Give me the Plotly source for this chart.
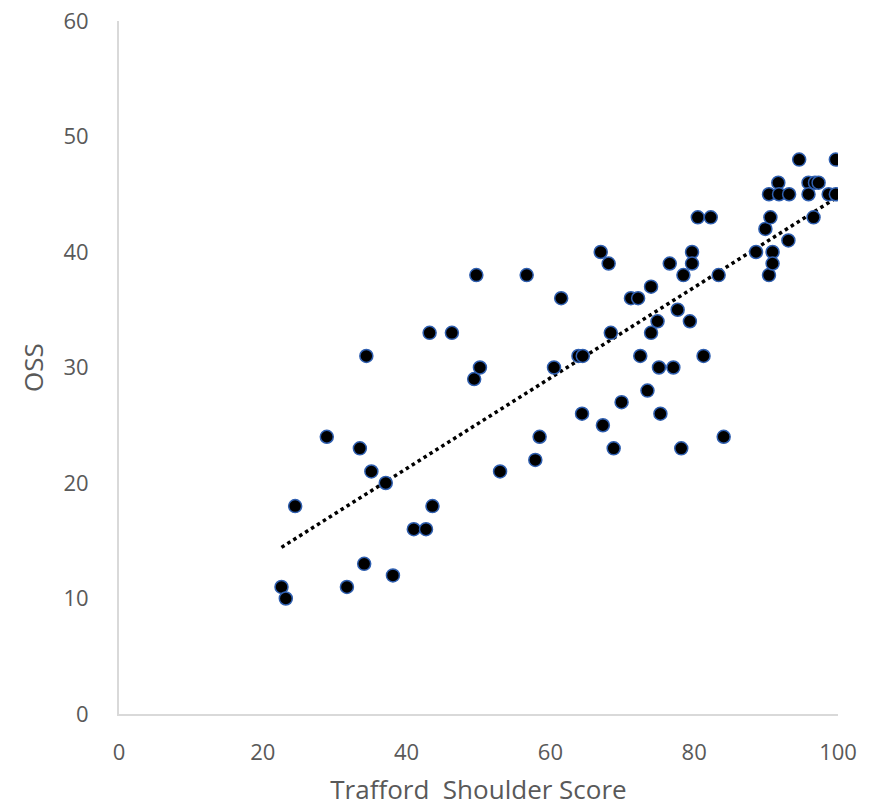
import numpy as np
import plotly.graph_objects as go

# Trafford Shoulder Score (x) and OSS (y)
tss = [22.6, 23.2, 24.5, 28.9, 31.7, 33.5, 34.1, 34.4, 35.1, 37.1, 38.1, 41.0, 42.7, 43.2,
       43.6, 46.3, 49.4, 49.7, 50.2, 53.0, 56.7, 57.9, 58.5, 60.5, 61.5, 63.9, 64.4, 64.5,
       67.0, 67.3, 68.1, 68.4, 68.8, 69.9, 71.2, 72.2, 72.5, 73.5, 74.0, 74.0, 74.9, 75.1,
       75.3, 76.6, 77.1, 77.7, 78.2, 78.5, 79.4, 79.7, 79.7, 80.5, 81.3, 82.3, 83.4, 84.1,
       88.6, 89.9, 90.4, 90.4, 90.6, 90.9, 90.9, 91.7, 91.8, 93.1, 93.2, 94.6, 95.9, 95.9,
       96.6, 96.8, 97.3, 98.7, 99.7, 99.7]
oss = [11, 10, 18, 24, 11, 23, 13, 31, 21, 20, 12, 16, 16, 33,
       18, 33, 29, 38, 30, 21, 38, 22, 24, 30, 36, 31, 26, 31,
       40, 25, 39, 33, 23, 27, 36, 36, 31, 28, 37, 33, 34, 30,
       26, 39, 30, 35, 23, 38, 34, 40, 39, 43, 31, 43, 38, 24,
       40, 42, 38, 45, 43, 40, 39, 46, 45, 41, 45, 48, 46, 45,
       43, 46, 46, 45, 45, 48]

x_ticks = [0, 20, 40, 60, 80, 100]
y_ticks = [0, 10, 20, 30, 40, 50, 60]

# linear trendline fitted from the data
slope, intercept = np.polyfit(tss, oss, 1)
tx = np.array([min(tss), max(tss)])
ty = slope * tx + intercept

fig = go.Figure()
fig.add_trace(go.Scatter(
    x=tx, y=ty, mode="lines",
    line=dict(color="black", width=3.5, dash="dot"),
    hoverinfo="skip", showlegend=False,
))
fig.add_trace(go.Scatter(
    x=tss, y=oss, mode="markers",
    marker=dict(size=13, color="black", line=dict(color="#2f5fb0", width=1.5)),
    showlegend=False,
))

font_family = "Open Sans, DejaVu Sans, sans-serif"
fig.update_layout(
    width=879, height=807,
    margin=dict(l=119, r=41, t=21, b=93),
    paper_bgcolor="white", plot_bgcolor="white",
    font=dict(family=font_family, color="#595959", size=22),
    xaxis=dict(
        range=[0, 100], tickvals=x_ticks, showgrid=False, zeroline=False,
        showline=True, linecolor="#d9d9d9", linewidth=2, ticks="", automargin=False,
        ticklabelstandoff=18, tickfont=dict(size=22, color="#595959"),
        ticklabeloverflow="allow",
        title=dict(text="Trafford  Shoulder Score", font=dict(size=26, color="#595959"), standoff=15),
    ),
    yaxis=dict(
        range=[0, 60], tickvals=y_ticks, showgrid=False, zeroline=False,
        showline=True, linecolor="#d9d9d9", linewidth=2, ticks="", automargin=False,
        ticklabelstandoff=24, tickfont=dict(size=22, color="#595959"),
        ticklabeloverflow="allow",
        title=dict(text="OSS", font=dict(size=26, color="#595959"), standoff=12),
    ),
)

fig.write_html(
    "out.html",
    config={"displayModeBar": False},
    post_script="document.body.style.margin='0';document.body.style.overflow='hidden';",
)
